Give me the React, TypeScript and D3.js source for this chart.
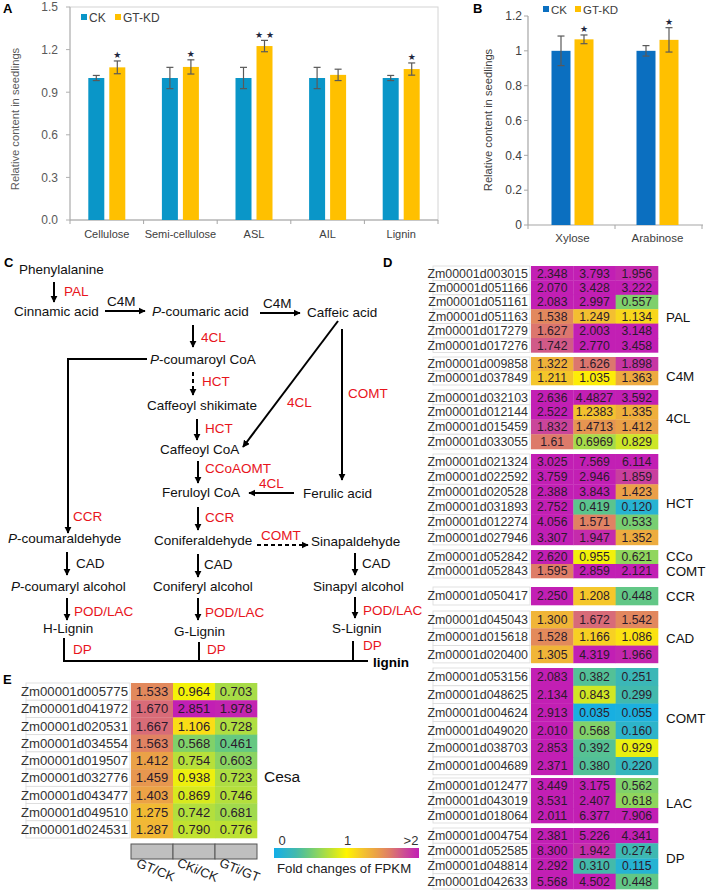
import React from "react";
import * as d3 from "d3";

const FONT = "'Liberation Sans', Arial, Helvetica, sans-serif";

// ---------- Panel A data ----------
const catsA = ["Cellulose", "Semi-cellulose", "ASL", "AIL", "Lignin"];
const ckA = [1, 1, 1, 1, 1];
const ckErrA = [0.018, 0.075, 0.075, 0.075, 0.018];
const gtA = [1.075, 1.078, 1.225, 1.022, 1.063];
const gtErrA = [0.045, 0.05, 0.04, 0.04, 0.043];
const sigA = ["★", "★", "★ ★", "", "★"];
const ticksA = [0, 0.3, 0.6, 0.9, 1.2, 1.5];

// ---------- Panel B data ----------
const catsB = ["Xylose", "Arabinose"];
const ckB = [1, 1];
const ckErrB = [0.085, 0.03];
const gtB = [1.066, 1.063];
const gtErrB = [0.025, 0.07];
const sigB = ["★", "★"];
const ticksB = [0, 0.2, 0.4, 0.6, 0.8, 1, 1.2];

// ---------- Panel D data ----------
const dGroups = ["PAL", "C4M", "4CL", "HCT", "CCo\nCOMT", "CCR", "CAD", "COMT", "LAC", "DP"];
const dGenes = [
  ["Zm00001d003015", "Zm00001d051166", "Zm00001d051161", "Zm00001d051163", "Zm00001d017279", "Zm00001d017276"],
  ["Zm00001d009858", "Zm00001d037849"],
  ["Zm00001d032103", "Zm00001d012144", "Zm00001d015459", "Zm00001d033055"],
  ["Zm00001d021324", "Zm00001d022592", "Zm00001d020528", "Zm00001d031893", "Zm00001d012274", "Zm00001d027946"],
  ["Zm00001d052842", "Zm00001d052843"],
  ["Zm00001d050417"],
  ["Zm00001d045043", "Zm00001d015618", "Zm00001d020400"],
  ["Zm00001d053156", "Zm00001d048625", "Zm00001d004624", "Zm00001d049020", "Zm00001d038703", "Zm00001d004689"],
  ["Zm00001d012477", "Zm00001d043019", "Zm00001d018064"],
  ["Zm00001d004754", "Zm00001d052585", "Zm00001d048814", "Zm00001d042633"],
];
const dValues = [
  [["2.348", "3.793", "1.956"], ["2.070", "3.428", "3.222"], ["2.083", "2.997", "0.557"], ["1.538", "1.249", "1.134"], ["1.627", "2.003", "3.148"], ["1.742", "2.770", "3.458"]],
  [["1.322", "1.626", "1.898"], ["1.211", "1.035", "1.363"]],
  [["2.636", "4.4827", "3.592"], ["2.522", "1.2383", "1.335"], ["1.832", "1.4713", "1.412"], ["1.61", "0.6969", "0.829"]],
  [["3.025", "7.569", "6.114"], ["3.759", "2.946", "1.859"], ["2.388", "3.843", "1.423"], ["2.752", "0.419", "0.120"], ["4.056", "1.571", "0.533"], ["3.307", "1.947", "1.352"]],
  [["2.620", "0.955", "0.621"], ["1.595", "2.859", "2.121"]],
  [["2.250", "1.208", "0.448"]],
  [["1.300", "1.672", "1.542"], ["1.528", "1.166", "1.086"], ["1.305", "4.319", "1.966"]],
  [["2.083", "0.382", "0.251"], ["2.134", "0.843", "0.299"], ["2.913", "0.035", "0.055"], ["2.010", "0.568", "0.160"], ["2.853", "0.392", "0.929"], ["2.371", "0.380", "0.220"]],
  [["3.449", "3.175", "0.562"], ["3.531", "2.407", "0.618"], ["2.011", "6.377", "7.906"]],
  [["2.381", "5.226", "4.341"], ["8.300", "1.942", "0.274"], ["2.292", "0.310", "0.115"], ["5.568", "4.502", "0.448"]],
];

// ---------- Panel E data ----------
const eGenes = ["Zm00001d005775", "Zm00001d041972", "Zm00001d020531", "Zm00001d034554", "Zm00001d019507", "Zm00001d032776", "Zm00001d043477", "Zm00001d049510", "Zm00001d024531"];
const eValues = [
  ["1.533", "0.964", "0.703"], ["1.670", "2.851", "1.978"], ["1.667", "1.106", "0.728"],
  ["1.563", "0.568", "0.461"], ["1.412", "0.754", "0.603"], ["1.459", "0.938", "0.723"],
  ["1.403", "0.869", "0.746"], ["1.275", "0.742", "0.681"], ["1.287", "0.790", "0.776"],
];
const eCols = ["GT/CK", "CKi/CK", "GTi/GT"];
const legendTicks = [{ v: 0, t: "0" }, { v: 1, t: "1" }, { v: 2, t: ">2" }];

// ---------- styling / layout ----------
const CK_A = "#0a96c8";
const CK_B = "#0b6fc0";
const GT = "#ffc000";
const RED = "#e8141c";
const STAR = "#1e2740";

const heatDomain = [0, 0.15, 0.3, 0.45, 0.6, 0.8, 1, 1.2, 1.4, 1.6, 1.8, 2];
const heatRange = ["#12aee8", "#2cb4cc", "#42b9ad", "#62c785", "#8ad462", "#c4e32e", "#fff500", "#f5c82a", "#eba345", "#de7c68", "#cc4c95", "#c21fb4"];
const heat = d3.scaleLinear<string>().domain(heatDomain).range(heatRange).clamp(true);

const dTop = [266, 357, 390, 454, 550, 587, 611, 668, 778, 828];
const dRowH = [14.4, 14, 14.75, 15.15, 14, 18, 17.3, 17.8, 15, 15.25];
const dLabelY = [[317], [376], [418], [503], [556, 571], [596], [638], [718], [803], [858]];

// Panel C diagram elements
const cBlack: [number, number, string, boolean?][] = [
  [19, 269, "Phenylalanine"], [14, 311, "Cinnamic acid"], [152, 311, "-coumaric acid", true],
  [307, 312, "Caffeic acid"], [150, 359, "-coumaroyl CoA", true], [147, 405, "Caffeoyl shikimate"],
  [160, 449, "Caffeoyl CoA"], [162, 492, "Feruloyl CoA"], [303, 493, "Ferulic acid"],
  [8, 538, "-coumaraldehyde", true], [154, 540, "Coniferaldehyde"], [311, 541, "Sinapaldehyde"],
  [11, 586, "-coumaryl alcohol", true], [153, 586, "Coniferyl alcohol"], [313, 586, "Sinapyl alcohol"],
  [43, 628, "H-Lignin"], [174, 631, "G-Lignin"], [332, 628, "S-Lignin"],
  [107, 301, "C4M"], [263, 303, "C4M"], [76, 563, "CAD"], [204, 564, "CAD"], [362, 563, "CAD"],
];
const cRed: [number, number, string][] = [
  [64, 291, "PAL"], [201, 337, "4CL"], [202, 381, "HCT"], [205, 428, "HCT"], [287, 402, "4CL"],
  [348, 393, "COMT"], [205, 468, "CCoAOMT"], [259, 483, "4CL"], [205, 517, "CCR"], [73, 516, "CCR"],
  [261, 535, "COMT"], [74, 611, "POD/LAC"], [205, 612, "POD/LAC"], [363, 610, "POD/LAC"],
  [73, 649, "DP"], [207, 649, "DP"], [363, 645, "DP"],
];
const cArrows: [number, number, number, number, boolean?][] = [
  [54, 282, 54, 302], [105, 311, 145, 311], [260, 313, 300, 313], [193, 325, 193, 347],
  [193, 372, 193, 395, true], [197, 419, 197, 440], [338, 321, 243, 447], [342, 329, 342, 480],
  [198, 461, 198, 483], [294, 493, 249, 493], [198, 507, 198, 530], [257, 545, 308, 545, true],
  [67, 552, 67, 575], [198, 554, 198, 577], [355, 553, 355, 575],
  [67, 598, 67, 620], [198, 598, 198, 620], [355, 597, 355, 618],
];
const cPlain: [number, number, number, number][] = [
  [64, 638, 64, 661], [199, 642, 199, 661], [353, 641, 353, 661], [63, 661, 368, 661],
];

function ErrBar({ x, y0, y1, cap }: { x: number; y0: number; y1: number; cap: number }) {
  return (
    <g stroke="#595959" strokeWidth={1.2}>
      <line x1={x} x2={x} y1={y0} y2={y1} />
      <line x1={x - cap} x2={x + cap} y1={y0} y2={y0} />
      <line x1={x - cap} x2={x + cap} y1={y1} y2={y1} />
    </g>
  );
}

function Star({ x, y, s }: { x: number; y: number; s: string }) {
  return (
    <text x={x} y={y + 3.4} fontSize={9} textAnchor="middle" fill={STAR} fontFamily="'DejaVu Sans', sans-serif">{s}</text>
  );
}

function PanelA() {
  const x = d3.scaleBand().domain(catsA).range([70, 438]);
  const y = d3.scaleLinear().domain([0, 1.5]).range([220, 7]);
  const bw = 16, off = 10.5;
  const bounds = catsA.map((c) => x(c)!).concat([438]);
  return (
    <g>
      <text x={3} y={13} fontSize={13} fontWeight="bold" fill="#000">A</text>
      <rect x={70} y={7} width={368} height={213} fill="none" stroke="#d4d4d4" strokeWidth={1} />
      <line x1={70} x2={70} y1={7} y2={220} stroke="#b0b0b0" strokeWidth={1} />
      <line x1={70} x2={438} y1={220} y2={220} stroke="#a6a6a6" strokeWidth={1.2} />
      {bounds.map((b, i) => (
        <line key={i} x1={b} x2={b} y1={220} y2={224} stroke="#a6a6a6" />
      ))}
      {ticksA.map((t) => (
        <g key={t}>
          <line x1={66} x2={70} y1={y(t)} y2={y(t)} stroke="#b0b0b0" />
          <text x={58} y={y(t) + 4.3} fontSize={12} textAnchor="end" fill="#595959">{t.toFixed(1)}</text>
        </g>
      ))}
      <text transform="translate(19,119) rotate(-90)" fontSize={11.2} textAnchor="middle" fill="#595959">Relative content in seedlings</text>
      {catsA.map((c, i) => {
        const cx = x(c)! + x.bandwidth() / 2;
        const gTop = y(gtA[i] + gtErrA[i]);
        return (
          <g key={c}>
            <rect x={cx - off - bw / 2} y={y(ckA[i])} width={bw} height={220 - y(ckA[i])} fill={CK_A} />
            <rect x={cx + off - bw / 2} y={y(gtA[i])} width={bw} height={220 - y(gtA[i])} fill={GT} />
            <ErrBar x={cx - off} y0={y(ckA[i] + ckErrA[i])} y1={y(ckA[i] - ckErrA[i])} cap={3.5} />
            <ErrBar x={cx + off} y0={gTop} y1={y(gtA[i] - gtErrA[i])} cap={3.5} />
            {sigA[i] && <Star x={cx + off} y={gTop - 6} s={sigA[i]} />}
            <text x={cx} y={238} fontSize={11} textAnchor="middle" fill="#404040">{c}</text>
          </g>
        );
      })}
      <rect x={81} y={14} width={6} height={6} fill={CK_A} />
      <text x={89} y={22} fontSize={12} fill="#404040">CK</text>
      <rect x={115} y={14} width={6} height={6} fill={GT} />
      <text x={123} y={22} fontSize={12} fill="#404040">GT-KD</text>
    </g>
  );
}

function PanelB() {
  const x = d3.scaleBand().domain(catsB).range([530, 700]);
  const y = d3.scaleLinear().domain([0, 1.2]).range([225, 16]);
  const bw = 19, off = 11.5;
  return (
    <g>
      <text x={473} y={13} fontSize={13} fontWeight="bold" fill="#000">B</text>
      <line x1={528} x2={528} y1={16} y2={225} stroke="#a6a6a6" strokeWidth={1.2} />
      <line x1={528} x2={703} y1={225} y2={225} stroke="#a6a6a6" strokeWidth={1.2} />
      {ticksB.map((t) => (
        <g key={t}>
          <line x1={524} x2={528} y1={y(t)} y2={y(t)} stroke="#a6a6a6" />
          <text x={522} y={y(t) + 4.3} fontSize={12} textAnchor="end" fill="#404040">{String(+t.toFixed(1))}</text>
        </g>
      ))}
      {[528, 615, 702].map((b) => (
        <line key={b} x1={b} x2={b} y1={225} y2={229} stroke="#a6a6a6" />
      ))}
      <text transform="translate(492,120) rotate(-90)" fontSize={11.2} textAnchor="middle" fill="#404040">Relative content in seedlings</text>
      {catsB.map((c, i) => {
        const cx = x(c)! + x.bandwidth() / 2;
        const gTop = y(gtB[i] + gtErrB[i]);
        return (
          <g key={c}>
            <rect x={cx - off - bw / 2} y={y(ckB[i])} width={bw} height={225 - y(ckB[i])} fill={CK_B} />
            <rect x={cx + off - bw / 2} y={y(gtB[i])} width={bw} height={225 - y(gtB[i])} fill={GT} />
            <ErrBar x={cx - off} y0={y(ckB[i] + ckErrB[i])} y1={y(ckB[i] - ckErrB[i])} cap={3.5} />
            <ErrBar x={cx + off} y0={gTop} y1={y(gtB[i] - gtErrB[i])} cap={3.5} />
            {sigB[i] && <Star x={cx + off} y={gTop - 6} s={sigB[i]} />}
            <text x={cx} y={242} fontSize={11.5} textAnchor="middle" fill="#404040">{c}</text>
          </g>
        );
      })}
      <rect x={543} y={6} width={6} height={6} fill={CK_B} />
      <text x={551} y={14} fontSize={11.5} fill="#404040">CK</text>
      <rect x={575} y={6} width={6} height={6} fill={GT} />
      <text x={583} y={14} fontSize={11.5} fill="#404040">GT-KD</text>
    </g>
  );
}

function PanelC() {
  return (
    <g fontSize={13.5}>
      <defs>
        <marker id="ah" viewBox="0 0 10 10" refX="9" refY="5" markerWidth="3.6" markerHeight="3.6" orient="auto" markerUnits="strokeWidth">
          <path d="M0,0 L10,5 L0,10 z" fill="#000" />
        </marker>
      </defs>
      <text x={4} y={267} fontSize={13} fontWeight="bold">C</text>
      {cBlack.map(([x, y, s, it], i) => (
        <text key={i} x={x} y={y + 4.6} fill="#111">
          {it ? <tspan fontStyle="italic">P</tspan> : null}
          {s}
        </text>
      ))}
      {cRed.map(([x, y, s], i) => (
        <text key={i} x={x} y={y + 4.6} fill={RED}>{s}</text>
      ))}
      {cArrows.map(([x1, y1, x2, y2, dashed], i) => (
        <line key={i} x1={x1} y1={y1} x2={x2} y2={y2} stroke="#000" strokeWidth={2}
          strokeDasharray={dashed ? "4,3" : undefined} markerEnd="url(#ah)" />
      ))}
      <polyline points="147,359 68,359 68,533" fill="none" stroke="#000" strokeWidth={2} markerEnd="url(#ah)" />
      {cPlain.map(([x1, y1, x2, y2], i) => (
        <line key={i} x1={x1} y1={y1} x2={x2} y2={y2} stroke="#000" strokeWidth={2} />
      ))}
      <text x={373} y={667} fontWeight="bold" fill="#000">lignin</text>
    </g>
  );
}

function PanelD() {
  const colX = d3.scaleBand().domain(["0", "1", "2"]).range([531, 658]);
  return (
    <g>
      <text x={383} y={267} fontSize={13} fontWeight="bold">D</text>
      {dGroups.map((g, gi) => {
        const h = dRowH[gi];
        const top = dTop[gi];
        return (
          <g key={g}>
            {dGenes[gi].map((gene, ri) => {
              const yy = top + ri * h;
              return (
                <g key={gene}>
                  <rect x={433} y={yy} width={97} height={h} fill="#fff" stroke="#dadada" strokeWidth={0.8} />
                  <text x={528} y={yy + h / 2 + 4.3} fontSize={12.4} textAnchor="end" fill="#333">{gene}</text>
                  {dValues[gi][ri].map((v, ci) => (
                    <g key={ci}>
                      <rect x={colX(String(ci))!} y={yy} width={colX.bandwidth() + 0.3} height={h + 0.3} fill={heat(+v)} />
                      <text x={colX(String(ci))! + colX.bandwidth() / 2} y={yy + h / 2 + 4.3} fontSize={12.2} textAnchor="middle" fill="#2b1a2b">{v}</text>
                    </g>
                  ))}
                </g>
              );
            })}
            {g.split("\n").map((ln, li) => (
              <text key={li} x={666} y={dLabelY[gi][li] + 4.8} fontSize={13.4} fill="#111">{ln}</text>
            ))}
          </g>
        );
      })}
    </g>
  );
}

function PanelE() {
  const colX = d3.scaleBand().domain(eCols).range([131, 257]);
  const rowY = d3.scaleBand().domain(eGenes).range([683, 838]);
  const lx = d3.scaleLinear().domain([0, 2]).range([274, 419]);
  const stops = d3.range(0, 2.001, 0.1);
  return (
    <g>
      <defs>
        <linearGradient id="lg" x1="0" x2="1" y1="0" y2="0">
          {stops.map((s) => (
            <stop key={s} offset={`${(s / 2) * 100}%`} stopColor={heat(s)} />
          ))}
        </linearGradient>
      </defs>
      <text x={3} y={684} fontSize={13} fontWeight="bold">E</text>
      {eGenes.map((gene, ri) => {
        const yy = rowY(gene)!;
        const h = rowY.bandwidth();
        return (
          <g key={gene}>
            <rect x={26} y={yy} width={104} height={h} fill="#fff" stroke="#dadada" strokeWidth={0.8} />
            <text x={128} y={yy + h / 2 + 4.6} fontSize={13.2} textAnchor="end" fill="#333">{gene}</text>
            {eValues[ri].map((v, ci) => (
              <g key={ci}>
                <rect x={colX(eCols[ci])!} y={yy} width={colX.bandwidth() + 0.3} height={h + 0.3} fill={heat(+v)} />
                <text x={colX(eCols[ci])! + colX.bandwidth() / 2} y={yy + h / 2 + 4.6} fontSize={13} textAnchor="middle" fill="#2b1a2b">{v}</text>
              </g>
            ))}
          </g>
        );
      })}
      <text x={264} y={782} fontSize={15.5} fill="#111">Cesa</text>
      {eCols.map((c) => (
        <g key={c}>
          <rect x={colX(c)!} y={844} width={colX.bandwidth()} height={15} fill="#bfbfbf" stroke="#555" strokeWidth={1} />
          <text transform={`translate(${colX(c)! + colX.bandwidth() / 2 + 2},${874}) rotate(22)`} fontSize={13} textAnchor="middle" fill="#222">{c}</text>
        </g>
      ))}
      <rect x={274} y={848} width={145} height={10} fill="url(#lg)" />
      {legendTicks.map((t) => (
        <text key={t.t} x={t.v === 2 ? lx(t.v) - 8 : lx(t.v) + 8 - t.v * 7} y={845} fontSize={13} textAnchor="middle" fill="#333">{t.t}</text>
      ))}
      <text x={277} y={873} fontSize={13.2} fill="#222">Fold changes of FPKM</text>
    </g>
  );
}

export default function App() {
  return (
    <svg width={708} height={894} viewBox="0 0 708 894" fontFamily={FONT}
      style={{ position: "absolute", left: 0, top: 0, background: "#fff" }}>
      <rect x={0} y={0} width={708} height={894} fill="#fff" />
      <PanelA />
      <PanelB />
      <PanelC />
      <PanelD />
      <PanelE />
    </svg>
  );
}
